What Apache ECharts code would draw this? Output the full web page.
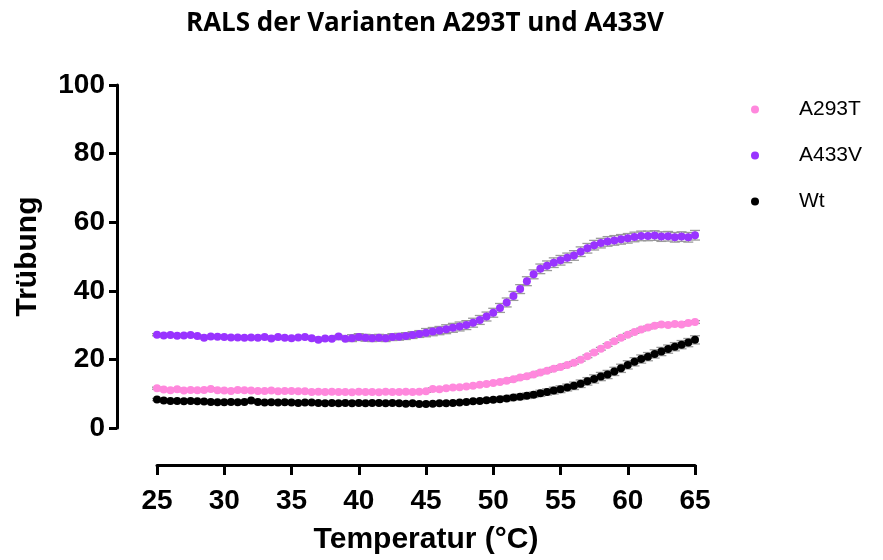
<!DOCTYPE html>
<html>
<head>
<meta charset="utf-8">
<script src="https://cdn.jsdelivr.net/npm/echarts@6/dist/echarts.min.js"></script>
<style>html,body{margin:0;padding:0;background:#fff}#chart{width:883px;height:560px}</style>
</head>
<body>
<div id="chart"></div>
<script>
const titleText = 'RALS der Varianten A293T und A433V';
const xAxisName = 'Temperatur (°C)';
const yAxisName = 'Trübung';
const seriesNames = ['A293T', 'A433V', 'Wt'];

const temperatures = [25,25.5,26,26.5,27,27.5,28,28.5,29,29.5,30,30.5,31,31.5,32,32.5,33,33.5,34,34.5,35,35.5,36,36.5,37,37.5,38,38.5,39,39.5,40,40.5,41,41.5,42,42.5,43,43.5,44,44.5,45,45.5,46,46.5,47,47.5,48,48.5,49,49.5,50,50.5,51,51.5,52,52.5,53,53.5,54,54.5,55,55.5,56,56.5,57,57.5,58,58.5,59,59.5,60,60.5,61,61.5,62,62.5,63,63.5,64,64.5,65];

const a293t = [11.6,11.2,11.0,11.3,10.9,11.1,11.0,11.1,11.4,11.0,10.9,10.8,11.1,11.0,10.9,10.8,10.8,10.9,10.7,10.8,10.8,10.7,10.7,10.5,10.6,10.5,10.6,10.5,10.5,10.4,10.6,10.5,10.5,10.4,10.6,10.5,10.5,10.6,10.5,10.6,10.7,11.4,11.3,11.6,11.8,11.9,12.1,12.3,12.6,12.8,13.1,13.4,13.8,14.2,14.7,15.1,15.6,16.2,16.7,17.3,17.8,18.4,19.0,19.9,20.9,22.0,23.1,24.2,25.3,26.3,27.2,28.0,28.7,29.3,29.8,30.2,30.0,30.3,30.2,30.6,30.9];
const a293tErr = [0.3,0.3,0.3,0.3,0.3,0.3,0.3,0.3,0.3,0.3,0.3,0.3,0.3,0.3,0.3,0.3,0.3,0.3,0.3,0.3,0.3,0.3,0.3,0.3,0.3,0.3,0.3,0.3,0.3,0.3,0.3,0.3,0.3,0.3,0.3,0.3,0.3,0.3,0.3,0.3,0.3,0.3,0.3,0.3,0.3,0.3,0.3,0.3,0.3,0.3,0.4,0.4,0.4,0.4,0.4,0.4,0.4,0.4,0.4,0.4,0.4,0.4,0.4,0.4,0.4,0.4,0.4,0.4,0.4,0.4,0.4,0.4,0.4,0.4,0.4,0.4,0.4,0.4,0.4,0.4,0.4];

const a433v = [27.2,27.0,27.1,26.9,27.0,27.1,26.8,26.3,26.7,26.6,26.5,26.4,26.4,26.3,26.4,26.3,26.5,26.1,26.5,26.3,26.2,26.4,26.5,26.2,25.7,26.1,26.0,26.7,26.0,26.2,26.5,26.3,26.2,26.3,26.2,26.5,26.6,26.8,27.1,27.4,27.8,28.1,28.4,28.8,29.2,29.6,30.0,30.7,31.5,32.5,33.6,35.0,36.6,38.5,40.5,42.8,44.8,46.4,47.3,48.2,48.9,49.6,50.3,51.4,52.4,53.3,53.9,54.4,54.7,55.0,55.3,55.7,56.0,56.0,56.1,55.8,55.9,55.6,55.8,55.6,56.2];
const a433vErr = [0.3,0.3,0.3,0.3,0.3,0.3,0.3,0.3,0.3,0.3,0.3,0.3,0.3,0.3,0.3,0.3,0.3,0.3,0.3,0.3,0.3,0.3,0.3,0.3,0.3,0.3,0.3,0.3,0.3,1.0,1.0,1.0,1.0,1.0,1.0,1.0,1.0,1.0,1.0,1.0,1.2,1.2,1.2,1.3,1.3,1.3,1.3,1.3,1.3,1.3,1.3,1.3,1.3,1.3,1.3,1.3,1.3,1.4,1.4,1.4,1.4,1.4,1.4,1.4,1.4,1.4,1.4,1.4,1.4,1.4,1.4,1.4,1.4,1.4,1.4,1.4,1.4,1.4,1.4,1.4,1.4];

const wt = [8.3,8.0,7.9,7.9,7.8,7.9,7.8,7.7,7.6,7.5,7.5,7.6,7.5,7.6,8.0,7.6,7.4,7.5,7.4,7.5,7.4,7.3,7.4,7.4,7.3,7.2,7.3,7.2,7.3,7.2,7.3,7.2,7.3,7.3,7.2,7.3,7.2,7.1,7.2,7.0,7.0,7.1,7.2,7.2,7.3,7.4,7.6,7.8,7.9,8.1,8.2,8.4,8.6,8.9,9.1,9.4,9.7,10.1,10.5,10.9,11.3,11.8,12.3,12.9,13.6,14.3,15.0,15.6,16.5,17.4,18.4,19.3,20.1,20.8,21.6,22.3,23.0,23.7,24.3,24.9,25.7];
const wtErr = [0.3,0.3,0.3,0.3,0.3,0.3,0.3,0.3,0.3,0.3,0.3,0.3,0.3,0.3,0.3,0.3,0.3,0.3,0.3,0.3,0.3,0.3,0.3,0.3,0.3,0.3,0.3,0.3,0.3,0.3,0.3,0.3,0.3,0.3,0.3,0.3,0.3,0.3,0.3,0.3,0.3,0.3,0.3,0.3,0.3,0.3,0.4,0.4,0.5,0.5,0.6,0.6,0.7,0.7,0.8,0.8,0.8,0.9,0.9,1.0,1.0,1.0,1.1,1.1,1.1,1.2,1.2,1.2,1.2,1.2,1.2,1.2,1.2,1.2,1.2,1.2,1.2,1.2,1.2,1.2,1.2];

const xTicks = [25,30,35,40,45,50,55,60,65];
const yTicks = [0,20,40,60,80,100];

const colors = ['#ff88dd', '#9933ff', '#000000'];

function points(vals) { return temperatures.map((t, i) => [t, vals[i]]); }
function errData(vals, errs) { return temperatures.map((t, i) => [t, vals[i] - errs[i], vals[i] + errs[i]]); }

function renderErr(params, api) {
  const x = api.value(0);
  const lo = api.coord([x, api.value(1)]);
  const hi = api.coord([x, api.value(2)]);
  const cw = 5;
  const st = { stroke: '#9a9a9a', lineWidth: 1.3 };
  return {
    type: 'group',
    children: [
      { type: 'line', shape: { x1: lo[0], y1: lo[1], x2: hi[0], y2: hi[1] }, style: st },
      { type: 'line', shape: { x1: lo[0] - cw, y1: lo[1], x2: lo[0] + cw, y2: lo[1] }, style: st },
      { type: 'line', shape: { x1: hi[0] - cw, y1: hi[1], x2: hi[0] + cw, y2: hi[1] }, style: st }
    ]
  };
}

const chart = echarts.init(document.getElementById('chart'), null, { renderer: 'canvas' });
const axisFont = 'Liberation Sans, Arial, sans-serif';
chart.setOption({
  animation: false,
  backgroundColor: '#ffffff',
  title: {
    text: titleText,
    left: 420,
    top: 6,
    textAlign: 'center',
    textStyle: { fontFamily: 'Open Sans, sans-serif', fontWeight: 'bold', fontSize: 26, color: '#000' }
  },
  legend: {
    orient: 'vertical',
    left: 746,
    top: 94,
    itemGap: 25,
    itemWidth: 8,
    itemHeight: 8,
    icon: 'circle',
    data: seriesNames,
    textStyle: { fontFamily: axisFont, fontSize: 21, color: '#000', padding: [0, 0, 0, 35] }
  },
  grid: { left: 157, right: 188, top: 85, bottom: 129, containLabel: false },
  xAxis: {
    type: 'value',
    min: 25, max: 65, interval: 5,
    offset: 37,
    name: xAxisName,
    nameLocation: 'middle',
    nameGap: 60,
    nameTextStyle: { fontFamily: axisFont, fontWeight: 'bold', fontSize: 30, color: '#000' },
    axisLine: { show: true, onZero: false, lineStyle: { color: '#000', width: 3 } },
    axisTick: { show: true, length: 10, lineStyle: { color: '#000', width: 3 } },
    axisLabel: { fontFamily: axisFont, fontWeight: 'bold', fontSize: 28, color: '#000', margin: 22,
      formatter: v => xTicks.includes(v) ? String(v) : '' },
    splitLine: { show: false }
  },
  yAxis: {
    type: 'value',
    min: 0, max: 100, interval: 20,
    offset: 40,
    name: yAxisName,
    nameLocation: 'middle',
    nameGap: 74,
    nameRotate: 90,
    nameTextStyle: { fontFamily: axisFont, fontWeight: 'bold', fontSize: 30, color: '#000' },
    axisLine: { show: true, onZero: false, lineStyle: { color: '#000', width: 3 } },
    axisTick: { show: true, length: 8, lineStyle: { color: '#000', width: 3 } },
    axisLabel: { fontFamily: axisFont, fontWeight: 'bold', fontSize: 28, color: '#000', margin: 12,
      formatter: v => yTicks.includes(v) ? String(v) : '' },
    splitLine: { show: false }
  },
  series: [
    { name: 'errA433V', type: 'custom', renderItem: renderErr, data: errData(a433v, a433vErr), z: 1, silent: true },
    { name: 'errA293T', type: 'custom', renderItem: renderErr, data: errData(a293t, a293tErr), z: 1, silent: true },
    { name: 'errWt', type: 'custom', renderItem: renderErr, data: errData(wt, wtErr), z: 1, silent: true },
    { name: seriesNames[0], type: 'scatter', symbol: 'circle', symbolSize: 8, itemStyle: { color: colors[0], opacity: 1 }, data: points(a293t), z: 3 },
    { name: seriesNames[1], type: 'scatter', symbol: 'circle', symbolSize: 8, itemStyle: { color: colors[1], opacity: 1 }, data: points(a433v), z: 3 },
    { name: seriesNames[2], type: 'scatter', symbol: 'circle', symbolSize: 8, itemStyle: { color: colors[2], opacity: 1 }, data: points(wt), z: 3 }
  ]
});
</script>
</body>
</html>
